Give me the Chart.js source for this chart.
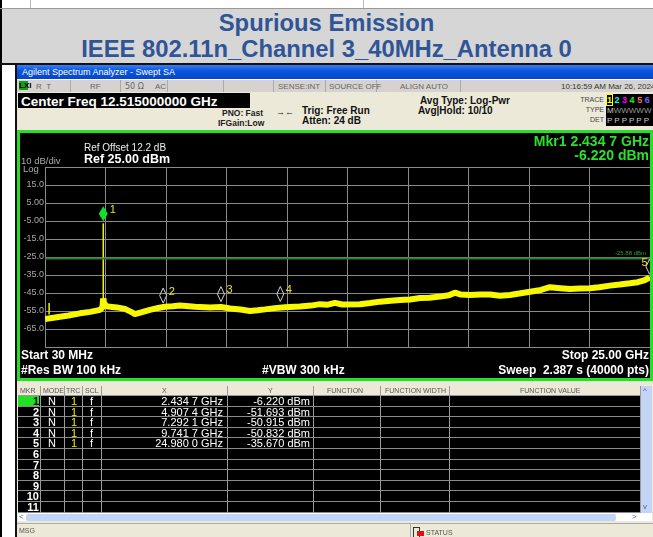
<!DOCTYPE html>
<html>
<head>
<meta charset="utf-8">
<script src="https://cdn.jsdelivr.net/npm/chart.js@4.4.1/dist/chart.umd.min.js"></script>
<style>
  body { margin: 0; width: 653px; height: 537px; position: relative; overflow: hidden; background: #fff; font-family: 'Liberation Sans', Arial, sans-serif; }
  .a { position: absolute; white-space: nowrap; }
  .title { left: 0; width: 653px; text-align: center; color: #2f5597; font-weight: bold; font-size: 23.8px; }
  .st { font-size: 8px; color: #666; top: 82px; }
  .sep { top: 80px; width: 1px; height: 12px; background: #aaa; }
  .hdr { font-size: 7px; color: #555; top: 387px; }
  .cell { font-size: 11px; color: #fff; }
  .ws { color: #fff; font-weight: bold; font-size: 12px; }
</style>
</head>
<body>
<!-- document table around the screenshot -->
<div class="a" style="left:0;top:0;width:2px;height:537px;background:#000"></div>
<div class="a" style="left:0;top:8px;width:653px;height:1px;background:#999"></div>
<div class="a" style="left:30px;top:0;width:1px;height:8px;background:#bbb"></div>
<div class="a" style="left:363px;top:0;width:1px;height:8px;background:#bbb"></div>
<div class="a" style="left:2px;top:9px;width:651px;height:54px;background:#d6d6d6"></div>
<div class="a title" style="top:9px">Spurious Emission</div>
<div class="a title" style="top:35px">IEEE 802.11n_Channel 3_40MHz_Antenna 0</div>
<div class="a" style="left:0;top:63px;width:653px;height:2px;background:#111"></div>
<div class="a" style="left:15px;top:65px;width:2px;height:472px;background:#111"></div>

<!-- analyzer window -->
<div class="a" style="left:17px;top:65px;width:636px;height:14px;background:linear-gradient(#3a80f0,#0a56e0 40%,#0745c8)"></div>
<div class="a" style="left:22px;top:67px;font-size:9px;color:#fff">Agilent Spectrum Analyzer - Swept SA</div>
<div class="a" style="left:17px;top:79px;width:636px;height:13px;background:#d6d3ce;border-top:1px solid #fff"></div>
<div class="a" style="left:19px;top:81px;width:9px;height:9px;background:#1a9a1a"></div>
<div class="a" style="left:19px;top:81px;font-size:8px;color:#000;font-weight:bold">LXI</div>
<div class="a st" style="left:36px">R&nbsp;&nbsp;T</div>
<div class="a st" style="left:90px">RF</div>
<div class="a st" style="left:125px;font-family:'DejaVu Sans'">50 Ω</div>
<div class="a st" style="left:155px">AC</div>
<div class="a sep" style="left:70px"></div>
<div class="a sep" style="left:120px"></div>
<div class="a sep" style="left:167px"></div>
<div class="a sep" style="left:223px"></div>
<div class="a sep" style="left:273px"></div>
<div class="a sep" style="left:325px"></div>
<div class="a sep" style="left:376px"></div>
<div class="a sep" style="left:460px"></div>
<div class="a st" style="left:278px">SENSE:INT</div>
<div class="a st" style="left:329px">SOURCE OFF</div>
<div class="a st" style="left:400px">ALIGN AUTO</div>
<div class="a st" style="left:561px;color:#333">10:16:59 AM Mar 26, 2024</div>

<div class="a" style="left:17px;top:92px;width:636px;height:38px;background:#ece9d8"></div>
<div class="a" style="left:18px;top:93px;width:232px;height:15px;background:#000"></div>
<div class="a" style="left:21px;top:94px;font-size:13.5px;color:#fff;font-weight:bold">Center Freq 12.515000000 GHz</div>
<div class="a" style="left:222px;top:108px;font-size:8.5px;font-weight:bold;color:#222">PNO: Fast</div>
<div class="a" style="left:218px;top:118px;font-size:8.5px;font-weight:bold;color:#222">IFGain:Low</div>
<div class="a" style="left:276px;top:107px;font-size:9px;color:#222">→←</div>
<div class="a" style="left:302px;top:105px;font-size:10px;font-weight:bold;color:#111">Trig: Free Run</div>
<div class="a" style="left:302px;top:115px;font-size:10px;font-weight:bold;color:#111">Atten: 24 dB</div>
<div class="a" style="left:420px;top:95px;font-size:10px;font-weight:bold;color:#111">Avg Type: Log-Pwr</div>
<div class="a" style="left:418px;top:105px;font-size:10px;font-weight:bold;color:#111">Avg|Hold: 10/10</div>
<div class="a" style="left:580px;top:96px;font-size:7px;color:#444;width:24px;text-align:right">TRACE</div>
<div class="a" style="left:580px;top:106px;font-size:7px;color:#444;width:24px;text-align:right">TYPE</div>
<div class="a" style="left:580px;top:116px;font-size:7px;color:#444;width:24px;text-align:right">DET</div>
<div class="a" style="left:606px;top:94px;width:47px;height:32px;background:#000"></div>
<div class="a" style="left:607px;top:95px;font-size:9px;font-weight:bold"><span style="color:#ff0;outline:1px solid #ff0">1</span> <span style="color:#0ff">2</span> <span style="color:#f0f">3</span> <span style="color:#0f0">4</span> <span style="color:#f66">5</span> <span style="color:#66f">6</span></div>
<div class="a" style="left:607px;top:106px;font-size:8px;color:#ccc">M<span style="color:#999">WWWWW</span></div>
<div class="a" style="left:607px;top:116px;font-size:8px;color:#ccc;letter-spacing:2px">PPPPPP</div>

<!-- graticule box -->
<div class="a" style="left:17px;top:130px;width:630px;height:245px;background:#000;border:3px solid #26e026"></div>
<canvas id="trace" class="a" width="630" height="245" style="left:20px;top:133px"></canvas>
<div class="a" style="left:84px;top:142px;font-size:10px;color:#eee">Ref Offset 12.2 dB</div>
<div class="a" style="left:84px;top:152px;font-size:12.5px;color:#fff;font-weight:bold">Ref 25.00 dBm</div>
<div class="a" style="left:21px;top:155px;font-size:9.5px;color:#aaa">10 dB/div</div>
<div class="a" style="left:23px;top:163px;font-size:9.5px;color:#aaa">Log</div>
<div class="a" style="right:4px;top:133px;font-size:14px;color:#2de02d;font-weight:bold">Mkr1 2.434 7 GHz</div>
<div class="a" style="right:4px;top:147px;font-size:14px;color:#2de02d;font-weight:bold">-6.220 dBm</div>
<div class="a" style="left:615px;top:250px;font-size:6px;color:#2ca02c">-25.88 dBm</div>
<div class="a ws" style="left:21px;top:348px">Start 30 MHz</div>
<div class="a ws" style="left:21px;top:363px">#Res BW 100 kHz</div>
<div class="a ws" style="left:262px;top:363px">#VBW 300 kHz</div>
<div class="a ws" style="right:4px;top:348px">Stop 25.00 GHz</div>
<div class="a ws" style="right:4px;top:363px">Sweep&nbsp;&nbsp;2.387 s (40000 pts)</div>

<!-- marker table -->
<div class="a" style="left:17px;top:381px;width:636px;height:156px;background:#ece9d8"></div>
<div id="table"></div>

<script>
// trace 1 (GHz, dBm)
const traceFreqs = [0.03, 0.65, 1.0, 1.47, 1.9, 2.30, 2.40, 2.43, 2.45, 2.55, 2.71, 3.0, 3.33, 3.6, 3.74, 4.0, 4.36, 4.7, 4.98,
  5.3, 5.6, 6.22, 6.84, 7.29, 7.67, 8.1, 8.49, 8.8, 9.11, 9.5, 9.94, 10.55, 11.0, 11.38, 11.7, 12.0, 12.3, 13.03, 13.45,
  13.86, 14.3, 14.68, 15.1, 15.51, 15.9, 16.33, 16.7, 16.95, 17.2, 17.57, 18.0, 18.4, 18.8, 19.22, 19.6, 20.05, 20.5,
  20.87, 21.3, 21.7, 22.1, 22.52, 22.9, 23.35, 23.75, 24.17, 24.5, 24.79, 24.98, 25.0];
const traceLevels = [-59.5, -58.2, -57.5, -56.3, -55.5, -54.4, -53, -48, -50, -52.4, -52.6, -53, -53.8, -55.6, -56.8, -55.8, -54.4, -53.3, -52.6,
  -52.3, -51.9, -52.6, -53.1, -52.8, -53.6, -54.2, -55, -54.6, -54.1, -53.4, -52.9, -52.5, -52, -51.2, -51.5, -50.5, -51.4, -51.2, -50.6,
  -49.8, -49.3, -48.9, -48.6, -47.8, -47.6, -47, -46.3, -44.8, -45.9, -46.1, -45.9, -45.8, -46.5, -46.1, -45.3, -44.3, -43.3,
  -41.8, -42.3, -42.8, -42.5, -42.4, -41.8, -40.9, -40.3, -39.6, -39, -37.8, -36.5, -36];
// narrow spurs drawn as thin lines
const spurFreqs = [0.2, 0.2, null, 2.4347, 2.4347];
const spurLevels = [-57, -50.5, null, -52, -6.22];
// display line
const displayLine = -25.88;
// markers 1..5
const markerFreqs = [2.4347, 4.9074, 7.2921, 9.7417, 24.98];
const markerLevels = [-6.22, -51.693, -50.915, -50.832, -35.67];
const markerX = ['2.434 7 GHz', '4.907 4 GHz', '7.292 1 GHz', '9.741 7 GHz', '24.980 0 GHz'];
const markerY = ['-6.220 dBm', '-51.693 dBm', '-50.915 dBm', '-50.832 dBm', '-35.670 dBm'];
// graticule
const xGridFreqs = [0.03, 2.527, 5.024, 7.521, 10.018, 12.515, 15.012, 17.509, 20.006, 22.503, 25.0];
const yTickLabels = ['', '-65.0', '-55.0', '-45.0', '-35.0', '-25.0', '-15.0', '-5.00', '5.00', '15.0', ''];

const pts = (xs, ys) => xs.map((f, i) => ({ x: f === null ? 0 : f, y: f === null ? null : ys[i] }));

const markerPlugin = {
  id: 'markers',
  afterDatasetsDraw(chart) {
    const { ctx, scales: { x, y }, chartArea } = chart;
    ctx.save();
    markerFreqs.forEach((f, i) => {
      const px = x.getPixelForValue(f);
      const py = y.getPixelForValue(markerLevels[i]) - 2;
      const w = i === 0 ? 4.5 : 3.5, h = 15;
      ctx.beginPath();
      ctx.moveTo(px, py);
      ctx.lineTo(px + w, py - h / 2);
      ctx.lineTo(px, py - h);
      ctx.lineTo(px - w, py - h / 2);
      ctx.closePath();
      if (i === 0) {
        ctx.fillStyle = '#10e030';
        ctx.fill();
      } else {
        ctx.strokeStyle = '#cfcfcf';
        ctx.lineWidth = 1;
        ctx.stroke();
      }
      ctx.fillStyle = '#f0e020';
      ctx.font = '11px "Liberation Sans"';
      ctx.textBaseline = 'top';
      const lx = px + 12 > chartArea.right ? px - 8 : px + w + 2;
      ctx.fillText(String(i + 1), lx, py - h - 2);
    });
    ctx.restore();
  }
};

new Chart(document.getElementById('trace'), {
  type: 'line',
  data: {
    datasets: [
      { data: [{ x: 0.03, y: displayLine }, { x: 25, y: displayLine }], borderColor: '#2e7d2e', borderWidth: 2 },
      { data: pts(traceFreqs, traceLevels), borderColor: '#f8f800', borderWidth: 6, borderJoinStyle: 'bevel' },
      { data: pts(spurFreqs, spurLevels), borderColor: '#f0f000', borderWidth: 1.5, spanGaps: false }
    ]
  },
  options: {
    responsive: false,
    animation: false,
    layout: { padding: { top: 34, right: 0, bottom: 31, left: 0 } },
    elements: { point: { radius: 0 }, line: { tension: 0 } },
    plugins: { legend: { display: false }, tooltip: { enabled: false } },
    scales: {
      x: {
        type: 'linear', min: 0.03, max: 25,
        afterBuildTicks: s => { s.ticks = xGridFreqs.map(v => ({ value: v })); },
        afterFit: s => { s.height = 0; },
        ticks: { display: false },
        grid: { color: '#8a8a8a', drawTicks: false },
        border: { color: '#8a8a8a' }
      },
      y: {
        min: -75, max: 25,
        ticks: { stepSize: 10, color: '#a8a8a8', padding: 1, font: { family: 'Liberation Sans', size: 9 },
          callback: (v, i) => yTickLabels[i] },
        afterFit: s => { s.width = 25; },
        grid: { color: '#8a8a8a', drawTicks: false },
        border: { color: '#8a8a8a' }
      }
    }
  },
  plugins: [markerPlugin]
});

// marker table
const tbl = document.getElementById('table');
const colLines = [40, 64, 82, 101, 227, 313, 380, 449, 640];
const headers = [['MKR', 20], ['MODE', 43], ['TRC', 66], ['SCL', 85], ['X', 162], ['Y', 268], ['FUNCTION', 327], ['FUNCTION WIDTH', 385], ['FUNCTION VALUE', 520]];
let html = '<div class="a" style="left:18px;top:386px;width:622px;height:9px;background:#ece9d8;border-bottom:1px solid #999"></div>';
headers.forEach(([t, l]) => { html += `<div class="a hdr" style="left:${l}px">${t}</div>`; });
html += '<div class="a" style="left:18px;top:396px;width:622px;height:117px;background:#000"></div>';
for (let r = 0; r < 11; r++) {
  const top = 396 + r * 10.6;
  html += `<div class="a" style="left:18px;top:${(top + 9.6).toFixed(1)}px;width:622px;height:1px;background:#8a8a8a"></div>`;
  const bg = r === 0 ? 'background:#22e022;color:#000;' : '';
  html += `<div class="a cell" style="left:18px;top:${top.toFixed(1)}px;width:21px;height:9.6px;text-align:right;font-weight:bold;line-height:10px;${bg}">${r + 1}</div>`;
  if (r < markerX.length) {
    html += `<div class="a cell" style="left:48px;top:${top.toFixed(1)}px;line-height:10px">N</div>`;
    html += `<div class="a cell" style="left:71px;top:${top.toFixed(1)}px;line-height:10px;color:#f0f000">1</div>`;
    html += `<div class="a cell" style="left:90px;top:${top.toFixed(1)}px;line-height:10px">f</div>`;
    html += `<div class="a cell" style="left:101px;width:122px;text-align:right;top:${top.toFixed(1)}px;line-height:10px">${markerX[r]}</div>`;
    html += `<div class="a cell" style="left:227px;width:83px;text-align:right;top:${top.toFixed(1)}px;line-height:10px">${markerY[r]}</div>`;
  }
}
colLines.forEach(x => { html += `<div class="a" style="left:${x}px;top:386px;width:1px;height:127px;background:#9a9a9a"></div>`; });
html += '<div class="a" style="left:641px;top:386px;width:11px;height:127px;background:#c3d5f7"></div>';
html += '<div class="a" style="left:643px;top:386px;font-size:8px;color:#4060a0">^</div>';
html += '<div class="a" style="left:643px;top:502px;font-size:8px;color:#4060a0">v</div>';
html += '<div class="a" style="left:18px;top:513px;width:634px;height:8px;background:#fff"></div>';
html += '<div class="a" style="left:26px;top:514px;width:590px;height:7px;background:#c3d5f7;border-radius:2px"></div>';
html += '<div class="a" style="left:19px;top:512px;font-size:8px;color:#4060a0">&lt;</div>';
html += '<div class="a" style="left:632px;top:512px;font-size:8px;color:#4060a0">&gt;</div>';
html += '<div class="a" style="left:17px;top:523px;width:636px;height:1px;background:#aaa"></div>';
html += '<div class="a" style="left:19px;top:527px;font-size:7px;color:#555">MSG</div>';
html += '<div class="a" style="left:410px;top:524px;width:1px;height:13px;background:#aaa"></div>';
html += '<div class="a" style="left:413px;top:527px;width:5px;height:9px;border:1px solid #333;border-bottom:none"></div>';
html += '<div class="a" style="left:417px;top:531px;width:7px;height:5px;background:#e01010"></div>';
html += '<div class="a" style="left:426px;top:529px;font-size:7px;color:#555">STATUS</div>';
tbl.innerHTML = html;
</script>
</body>
</html>
